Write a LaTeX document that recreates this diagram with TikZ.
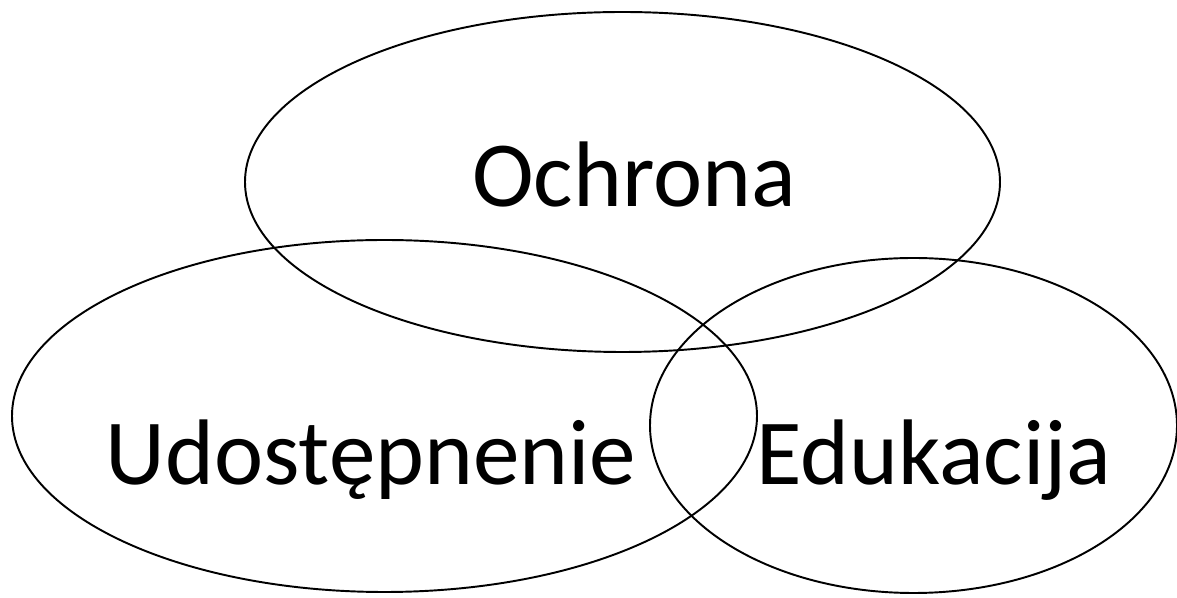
\documentclass[tikz,border=0pt]{standalone}
\usepackage{fontspec}
\setmainfont{Carlito}
\begin{document}
\begin{tikzpicture}[
    font=\fontsize{53}{60}\selectfont,
    set line/.style={draw=black, line width=1.1pt},
    set label/.style={anchor=base, inner sep=0pt}
]
    \useasboundingbox (0,0) rectangle (23.54,-11.96);

    % the three sets
    \draw[set line] (12.45,-3.64) ellipse [x radius=7.55, y radius=3.40];
    \draw[set line] (7.69,-8.32) ellipse [x radius=7.45, y radius=3.52];
    \draw[set line] (18.27,-8.51) ellipse [x radius=5.27, y radius=3.35];

    \node[set label] (ochrona) at (12.68,-4.14) {Ochrona};
    \node[set label] (udostepnenie) at (7.42,-9.70) {Udostępnenie};
    \node[set label] (edukacija) at (18.68,-9.70) {Edukacija};

\end{tikzpicture}
\end{document}
